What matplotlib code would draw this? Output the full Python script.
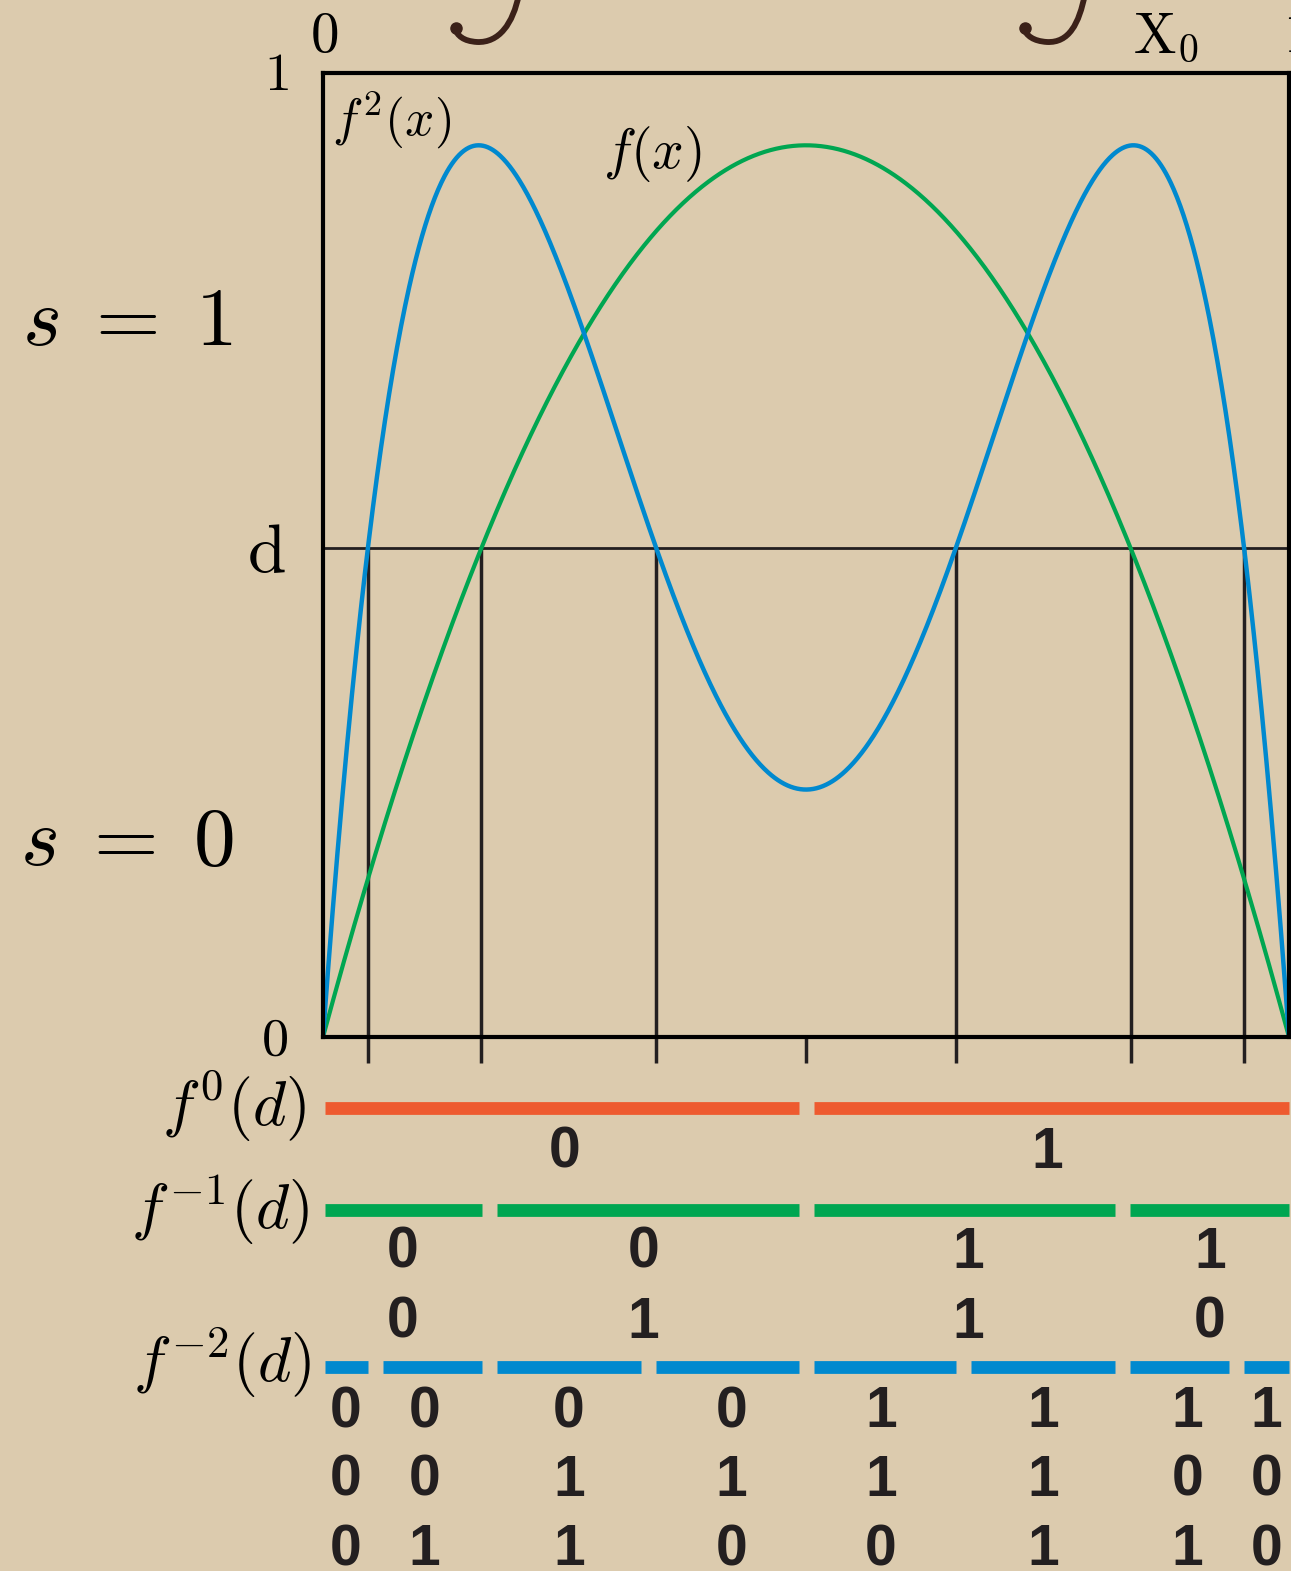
"""
Logistic map f(x) = r x (1 - x), its second iterate, and the symbolic
partition of [0, 1] given by the preimages of the level d.
"""

import numpy as np
import matplotlib.pyplot as plt
from matplotlib.path import Path
from matplotlib.patches import PathPatch

plt.rcParams['mathtext.fontset'] = 'cm'

# map parameter and the threshold level d
R = 3.7
D = 0.507

# symbolic codes of the intervals at each depth, left to right
CODES_F0 = ['0', '1']
CODES_F1 = ['00', '01', '11', '10']
CODES_F2 = ['000', '001', '011', '010', '110', '111', '101', '100']

# side of each cut on which the gap in the coloured bar sits
GAP_SIDE_F1 = [1, 0, -1]
GAP_SIDE_F2 = [1, 1, -1, 0, 1, -1, -1]

BG = '#DCCBAE'
INK = '#231F20'
BLUE = '#0089CF'
GREEN = '#00A651'
ORANGE = '#EE5A2F'
BROWN = '#3B2119'

W, H, DPI = 1291, 1571, 100
AX_LEFT, AX_TOP, AX_RIGHT, AX_BOTTOM = 323, 73, 1289, 1037
AX_W, AX_H = AX_RIGHT - AX_LEFT, AX_BOTTOM - AX_TOP


def f(x):
    return R * x * (1 - x)


def preimages(levels):
    pts = []
    for y in levels:
        s = np.sqrt(1 - 4 * y / R)
        pts += [(1 - s) / 2, (1 + s) / 2]
    return pts


def px(x, y):
    # pixel position -> figure fraction
    return x / W, 1 - y / H


def ypx(y):
    # pixel row -> data y of the main axes
    return (AX_BOTTOM - y) / AX_H


cuts_d1 = preimages([D])            # f^-1(d)
cuts_d2 = preimages(cuts_d1)        # f^-2(d)
cuts0 = [0.5]
cuts1 = sorted(cuts0 + cuts_d1)
cuts2 = sorted(cuts1 + cuts_d2)

fig = plt.figure(figsize=(W / DPI, H / DPI), dpi=DPI, facecolor=BG)
ax = fig.add_axes([AX_LEFT / W, 1 - AX_BOTTOM / H, AX_W / W, AX_H / H])
ax.set_facecolor('none')
ax.set_xlim(0, 1)
ax.set_ylim(0, 1)
ax.set_xticks([])
ax.set_yticks([])
for sp in ax.spines.values():
    sp.set_linewidth(3.0)
    sp.set_color('black')
    sp.set_zorder(5)

# curves
x = np.linspace(0, 1, 1201)
ax.plot(x, f(x), color=GREEN, lw=3.0, zorder=3)
ax.plot(x, f(f(x)), color=BLUE, lw=3.2, zorder=4)

# level d and the preimage cuts dropped below the axis
tick_len = 26 / AX_H
ax.plot([0, 1], [D, D], color=INK, lw=2.0, zorder=2, clip_on=False)
for c in sorted(cuts_d1 + cuts_d2):
    ax.plot([c, c], [D, -tick_len], color=INK, lw=2.5, zorder=2,
            solid_capstyle='butt', clip_on=False)
ax.plot([0.5, 0.5], [0, -tick_len], color=INK, lw=2.5, zorder=2,
        solid_capstyle='butt', clip_on=False)

# partition bars
GAP = 15 / AX_W
SHIFT = 8 / AX_W
BAR_LW = 9.2


def draw_bar(y, cuts, sides, color):
    starts = [2 / AX_W]
    ends = []
    for c, s in zip(cuts, sides):
        g = c + s * SHIFT
        ends.append(g - GAP / 2)
        starts.append(g + GAP / 2)
    ends.append(1.0)
    for a, b in zip(starts, ends):
        ax.plot([a, b], [y, y], color=color, lw=BAR_LW,
                solid_capstyle='butt', clip_on=False)


draw_bar(ypx(1108), cuts0, [0], ORANGE)
draw_bar(ypx(1210), cuts1, GAP_SIDE_F1, GREEN)
draw_bar(ypx(1367), cuts2, GAP_SIDE_F2, BLUE)


def draw_codes(cuts, codes, rows):
    edges = [0.0] + cuts + [1.0]
    centers = [(a + b) / 2 for a, b in zip(edges[:-1], edges[1:])]
    for cx, code in zip(centers, codes):
        for ch, row in zip(code, rows):
            ax.text(cx, ypx(row), ch, ha='center', va='baseline',
                    fontsize=41, fontweight='bold', color=INK,
                    family='Liberation Sans', clip_on=False)


draw_codes(cuts0, CODES_F0, [1168])
draw_codes(cuts1, CODES_F1, [1268, 1338])
draw_codes(cuts2, CODES_F2, [1427, 1496, 1565])


# labels
def label(x, y, s, size, ha='left', color='black'):
    fig.text(*px(x, y), s, fontsize=size, ha=ha, va='baseline', color=color)


label(22, 345, r'$s\;=\;1$', 60)
label(20, 865, r'$s\;=\;0$', 60)
label(266, 572, r'$\mathrm{d}$', 50, ha='center')
label(276, 90, r'$1$', 39, ha='center')
label(274, 1055, r'$0$', 39, ha='center')
label(324, 52, r'$0$', 41, ha='center')
label(1133, 52, r'$\mathrm{X}_0$', 41)
label(1283, 52, r'$1$', 41)

label(332, 135, r'$f^2(x)$', 37)
label(603, 168, r'$f(x)$', 40)

label(306, 1126, r'$f^0(d)$', 46, ha='right')
label(310, 1229, r'$f^{-1}(d)$', 46, ha='right')
label(312, 1382, r'$f^{-2}(d)$', 46, ha='right')


# lower hooks of two integral signs running off the top edge
def hook(top, low, end):
    (tx, ty), (lx, ly), (ex, ey) = top, low, end
    verts = [px(tx, ty - 6), px(tx - 6, ly - 18), px(lx + 22, ly + 1),
             px(lx, ly), px(lx - 14, ly - 1), px(ex + 4, ey + 8), px(ex, ey)]
    codes = [Path.MOVETO] + [Path.CURVE4] * 6
    fig.add_artist(PathPatch(Path(verts, codes), transform=fig.transFigure,
                             facecolor='none', edgecolor=BROWN, lw=4.2,
                             capstyle='round'))
    bx, by = px(ex + 2, ey)
    fig.add_artist(plt.Line2D([bx], [by], marker='o', markersize=8,
                              color=BROWN, transform=fig.transFigure))


hook((519, 0), (477, 42), (454, 28))
hook((1085, 0), (1047, 42), (1023, 28))

fig.savefig('out.png', dpi=DPI, facecolor=BG)
